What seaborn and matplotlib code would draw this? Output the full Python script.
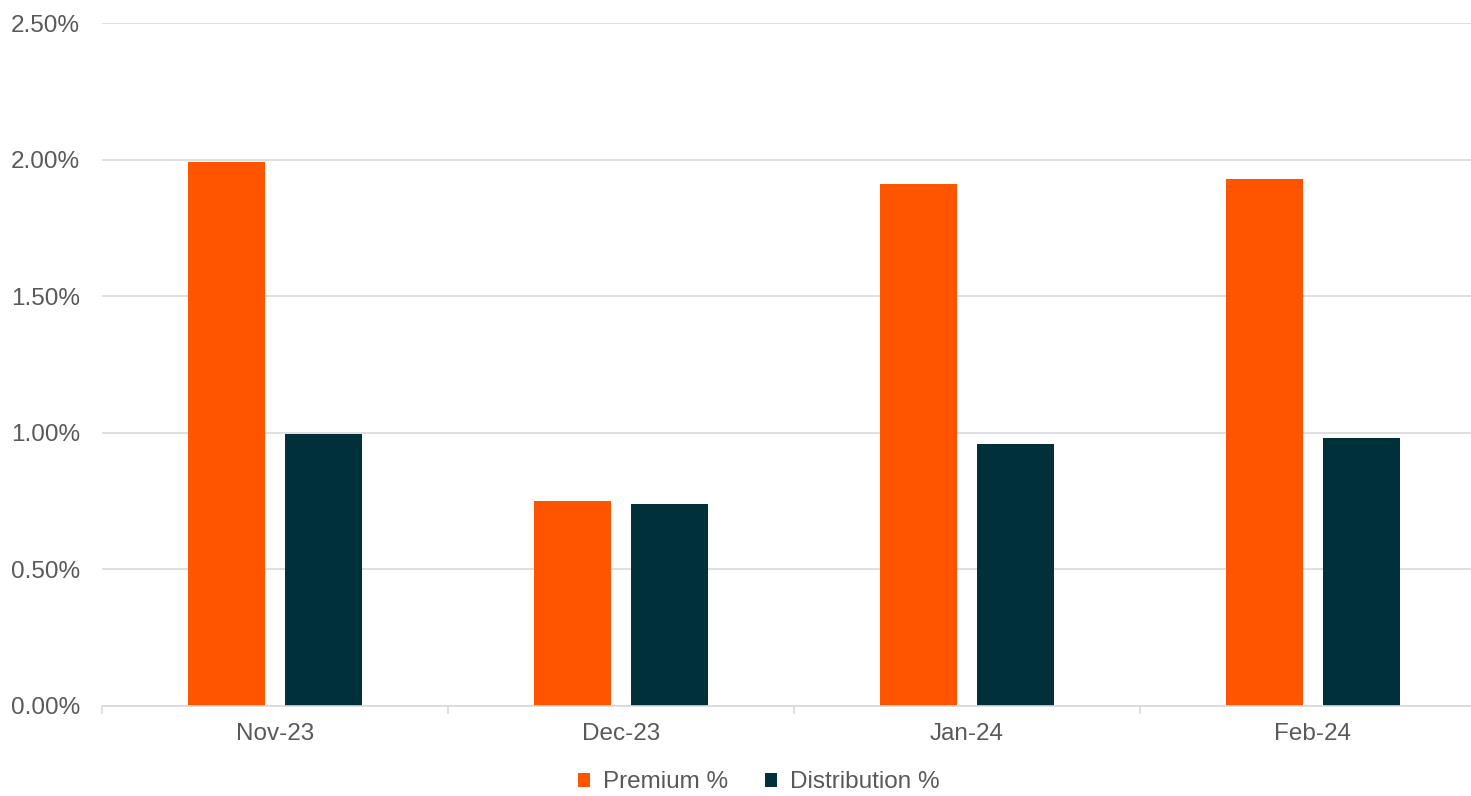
import matplotlib
matplotlib.use("Agg")
import matplotlib.pyplot as plt
import seaborn as sns
import pandas as pd
import numpy as np
from matplotlib.ticker import FuncFormatter, FixedLocator

months = ["Nov-23", "Dec-23", "Jan-24", "Feb-24"]
premium = [1.99, 0.75, 1.91, 1.93]
distribution = [0.995, 0.74, 0.96, 0.98]
series_names = ["Premium %", "Distribution %"]
colors = ["#FF5500", "#00303A"]

df = pd.DataFrame({
    "month": months * 2,
    "value": premium + distribution,
    "series": [series_names[0]] * 4 + [series_names[1]] * 4,
})

sns.set_theme(style="white")
plt.rcParams["font.family"] = ["Liberation Sans", "DejaVu Sans"]

fig = plt.figure(figsize=(14.71, 7.96), dpi=100)
ax = fig.add_axes([102 / 1471, 1 - 706 / 796, 1384 / 1471, (706 - 23) / 796])

sns.barplot(data=df, x="month", y="value", hue="series", palette=colors,
            width=0.566, gap=0.214, ax=ax, saturation=1, linewidth=0)

ax.set_ylim(0, 2.5)
ax.set_xlim(-0.5, 3.5)
ax.set_yticks(np.arange(0, 2.51, 0.5))
ax.yaxis.set_major_formatter(FuncFormatter(lambda v, p: f"{v:.2f}%"))
ax.grid(axis="y", color="#D9D9D9", linewidth=1.2)
ax.set_axisbelow(True)
for s in ["top", "right", "left"]:
    ax.spines[s].set_visible(False)
ax.spines["bottom"].set_color("#D9D9D9")
ax.spines["bottom"].set_linewidth(1.2)
ax.set_xlabel("")
ax.set_ylabel("")
ax.tick_params(axis="both", which="major", length=0, labelsize=17.5, labelcolor="#595959")
ax.tick_params(axis="x", pad=12)
ax.tick_params(axis="y", pad=15.8)
ax.xaxis.set_minor_locator(FixedLocator([-0.5, 0.5, 1.5, 2.5]))
ax.tick_params(axis="x", which="minor", length=6, color="#D9D9D9", width=1.2, bottom=True)

handles, labels = ax.get_legend_handles_labels()
ax.legend(handles, labels, loc="center", bbox_to_anchor=(0.4745, -0.112),
          ncol=2, frameon=False, fontsize=17.5, handlelength=0.5, handleheight=0.5,
          handletextpad=0.53, columnspacing=1.5, labelcolor="#595959",
          borderpad=0.1)

fig.savefig("out.png", dpi=100)
